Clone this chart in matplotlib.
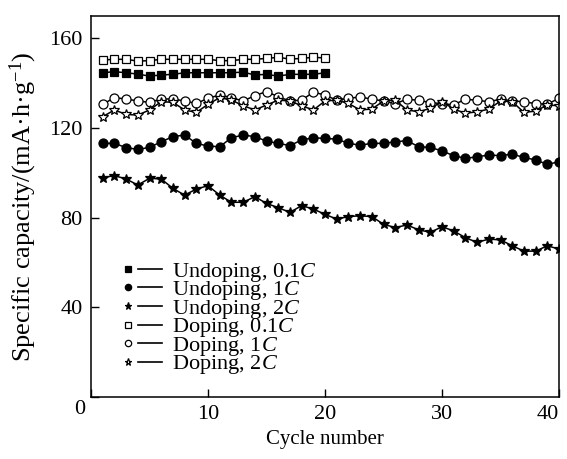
import numpy as np
import matplotlib
matplotlib.use("Agg")
import matplotlib.pyplot as plt
from matplotlib.legend_handler import HandlerBase
from matplotlib.lines import Line2D

# Data
cycles_short = np.arange(1, 21)
cycles_long = np.arange(1, 41)

undop_01c = [144.7, 145.2, 144.7, 144.1, 143.2, 143.7, 144.0, 144.7, 144.7, 144.7,
             144.7, 144.7, 145.0, 143.7, 144.0, 143.2, 144.0, 144.0, 144.0, 144.7]
dop_01c = [150.4, 150.7, 150.7, 149.9, 150.1, 150.7, 150.7, 150.7, 150.7, 150.7,
           150.1, 150.1, 150.7, 150.7, 151.1, 151.6, 150.8, 151.1, 151.6, 151.3]
undop_1c = [113.2, 113.2, 111.3, 110.5, 111.4, 113.9, 116.2, 116.9, 113.2, 112.0,
            111.7, 115.7, 116.9, 116.2, 114.2, 113.2, 112.2, 114.7, 115.7, 115.4,
            115.1, 113.2, 112.4, 113.2, 113.2, 113.9, 114.4, 111.7, 111.4, 109.8,
            107.7, 106.5, 107.2, 108.0, 107.7, 108.4, 106.9, 105.8, 103.8, 105.0]
undop_2c = [97.9, 98.8, 97.3, 94.6, 97.6, 97.3, 93.1, 90.1, 92.8, 94.3,
            90.1, 86.9, 86.9, 89.4, 86.4, 84.5, 82.4, 85.4, 83.9, 81.5,
            79.4, 80.5, 80.9, 80.5, 77.1, 75.6, 76.8, 74.6, 73.5, 76.0,
            74.1, 71.1, 69.0, 70.5, 70.1, 67.5, 65.1, 65.1, 67.5, 66.0]
dop_1c = [130.6, 133.6, 133.0, 132.1, 131.5, 133.0, 133.0, 132.1, 131.0, 133.3,
          134.8, 133.6, 132.1, 134.5, 136.3, 134.0, 132.1, 132.5, 136.0, 134.8,
          132.4, 133.3, 133.9, 132.9, 132.1, 130.9, 132.9, 132.4, 131.4, 130.9,
          130.4, 132.9, 132.4, 131.8, 132.9, 132.1, 131.8, 130.9, 130.7, 133.3]
dop_2c = [125.1, 128.1, 126.1, 125.8, 128.1, 131.8, 131.5, 128.1, 127.0, 130.6,
          133.6, 132.5, 130.0, 128.1, 130.3, 132.5, 132.1, 130.0, 128.1, 132.1,
          132.5, 131.0, 128.1, 128.5, 132.1, 132.5, 128.1, 127.3, 128.8, 131.8,
          128.5, 126.6, 127.3, 128.5, 132.1, 131.8, 127.0, 127.6, 130.3, 130.0]

labels = [r"Undoping, 0.1$\it{C}$", r"Undoping, 1$\it{C}$", r"Undoping, 2$\it{C}$",
          r"Doping, 0.1$\it{C}$", r"Doping, 1$\it{C}$", r"Doping, 2$\it{C}$"]

plt.rcParams["font.family"] = ["Liberation Serif", "DejaVu Serif"]
plt.rcParams["mathtext.fontset"] = "custom"
plt.rcParams["mathtext.rm"] = "Liberation Serif"
plt.rcParams["mathtext.it"] = "Liberation Serif:italic"


class MarkerDash(HandlerBase):
    # marker, then a short dash, like the original legend
    def create_artists(self, legend, orig, xd, yd, w, h, fs, trans):
        y = h / 2 - yd
        m = Line2D([w * 0.19 - xd], [y], marker=orig.get_marker(), ls="none",
                   ms=orig.get_markersize() * 0.7, mfc=orig.get_markerfacecolor(),
                   mec="k", mew=0.9, transform=trans)
        d = Line2D([w * 0.43 - xd, w - xd], [y, y], color="k", lw=1.2, transform=trans)
        return [m, d]


fig = plt.figure(figsize=(5.67, 4.59), dpi=100)
ax = fig.add_axes([0.1605, 0.135, 0.8255, 0.83])

series = [
    (cycles_short, undop_01c, "s", "k", 6.0),
    (cycles_long, undop_1c, "o", "k", 6.5),
    (cycles_long, undop_2c, "*", "k", 7.5),
    (cycles_short, dop_01c, "s", "w", 6.0),
    (cycles_long, dop_1c, "o", "w", 6.5),
    (cycles_long, dop_2c, "*", "w", 7.5),
]
handles = []
for (x, y, mk, fc, ms), lab in zip(series, labels):
    h, = ax.plot(x, y, color="k", lw=1.1, marker=mk, ms=ms, mfc=fc, mec="k",
                 mew=0.9, label=lab)
    handles.append(h)

ax.set_xlim(0, 40)
ax.set_ylim(0, 170)
ax.set_xticks([0, 10, 20, 30, 40])
ax.set_xticklabels(["", "10", "20", "30", "40"])
ax.set_yticks([0, 40, 80, 120, 160])
ax.set_yticklabels(["", "40", "80", "120", "160"])
ax.tick_params(direction="in", length=6, width=1, labelsize=16, pad=6)
ax.get_xticklabels()[-1].set_horizontalalignment("right")
for s in ax.spines.values():
    s.set_linewidth(1.1)
fig.text(80 / 567, 1 - 410 / 459, "0", fontsize=16, ha="center", va="center")

ax.set_xlabel("Cycle number", fontsize=15, labelpad=4)
ax.set_ylabel("Specific capacity/(mA·h·g$^{-1}$)", fontsize=19)
ax.yaxis.set_label_coords(-0.112, 0.5)

ax.legend(handles=handles, labels=labels, loc="center left",
          bbox_to_anchor=(0.062, 0.206), frameon=False, fontsize=16,
          handlelength=1.9, handletextpad=0.45, labelspacing=-0.2,
          borderpad=0, borderaxespad=0,
          handler_map={Line2D: MarkerDash()})

fig.savefig("out.png", dpi=100)
